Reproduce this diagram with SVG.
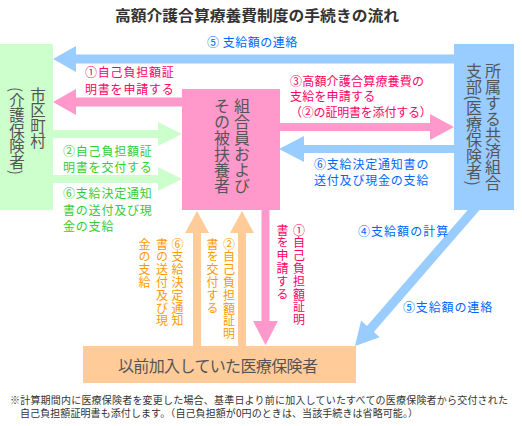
<svg xmlns="http://www.w3.org/2000/svg" width="522" height="426" viewBox="0 0 522 426">
<style>
text{font-family:"Noto Sans CJK JP","Noto Sans CJK SC",sans-serif;}
.title{font-size:15px;font-weight:bold;fill:#333333;}
.lbl{font-size:12px;letter-spacing:0.8px;}
.vt{writing-mode:vertical-rl;}
.box{font-size:15.5px;fill:#555555;}
.b{fill:#0066ff;} .p{fill:#ff0066;} .g{fill:#33cc33;} .o{fill:#ff9900;}
.note{font-size:10px;fill:#333333;}
.ab{fill:#99ccff;} .ap{fill:#ff99cc;} .ag{fill:#ccffcc;} .ao{fill:#ffcc99;}
</style>
<rect width="522" height="426" fill="#ffffff"/>
<text class="title" x="257" y="21" text-anchor="middle" textLength="284" lengthAdjust="spacingAndGlyphs">高額介護合算療養費制度の手続きの流れ</text>

<g id="connectors">
  <polygon class="ab" points="456,54.5 76,54.5 76,46 53,59 76,72 76,63.5 456,63.5"/>
  <polygon class="ap" points="184,97.5 76,97.5 76,89 53,102 76,115 76,106.5 184,106.5"/>
  <polygon class="ag" points="51,130 158,130 158,122 182,134 158,146 158,138 51,138"/>
  <polygon class="ag" points="51,175 158,175 158,167 182,179 158,191 158,183 51,183"/>
  <polygon class="ap" points="277,123 430,123 430,114 454,127 430,140 430,131 277,131"/>
  <polygon class="ab" points="456,145 304,145 304,136 279,149 304,162 304,153 456,153"/>
  <polygon class="ao" points="193,348 193,233 185,233 197,211 209,233 201,233 201,348"/>
  <polygon class="ao" points="238,348 238,233 230,233 242,211 254,233 246,233 246,348"/>
  <polygon class="ap" points="261.5,208 261.5,321 253,321 265.5,345 278,321 269.5,321 269.5,208"/>
  <polygon class="ab" points="474.7,202 481.3,208 373.8,331.9 379.7,337.3 355,346 361.1,320.5 367,325.9"/>
</g>

<g id="labels">
  <text class="lbl b" x="207" y="47" textLength="91" lengthAdjust="spacing">⑤ 支給額の連絡</text>
  <text class="lbl p" x="85" y="77">①自己負担額証</text>
  <text class="lbl p" x="85" y="94">明書を申請する</text>
  <text class="lbl g" x="63" y="156">②自己負担額証</text>
  <text class="lbl g" x="63" y="172">明書を交付する</text>
  <text class="lbl g" x="63" y="198">⑥支給決定通知</text>
  <text class="lbl g" x="63" y="215">書の送付及び現</text>
  <text class="lbl g" x="63" y="231">金の支給</text>
  <text class="lbl p" x="290" y="86" style="letter-spacing:0.2px">③高額介護合算療養費の</text>
  <text class="lbl p" x="290" y="101" style="letter-spacing:0.2px">支給を申請する</text>
  <text class="lbl p" x="290" y="117" style="letter-spacing:-0.2px">（②の証明書を添付する）</text>
  <text class="lbl b" x="314" y="169">⑥支給決定通知書の</text>
  <text class="lbl b" x="314" y="185">送付及び現金の支給</text>
  <text class="lbl b" x="358" y="236" textLength="91" lengthAdjust="spacing">④支給額の計算</text>
  <text class="lbl b" x="403" y="312" textLength="90" lengthAdjust="spacing">⑤支給額の連絡</text>
  <text class="lbl o vt" x="177.5" y="238">⑥支給決定通知</text>
  <text class="lbl o vt" x="162" y="238">書の送付及び現</text>
  <text class="lbl o vt" x="144.5" y="238">金の支給</text>
  <text class="lbl o vt" x="229" y="238">②自己負担額証明</text>
  <text class="lbl o vt" x="212.5" y="238">書を交付する</text>
  <text class="lbl p vt" x="299" y="224">①自己負担額証明</text>
  <text class="lbl p vt" x="282.5" y="224">書を申請する</text>
</g>

<g id="municipality">
  <rect class="ag" x="0" y="44" width="53" height="166"/>
  <text class="box vt" x="38" y="87">市区町村</text>
  <text class="box vt" x="17" y="87">(介護保険者)</text>
</g>
<g id="member">
  <rect class="ap" x="182" y="89" width="98" height="121"/>
  <text class="box vt" x="242" y="98" style="font-size:16px">組合員および</text>
  <text class="box vt" x="222" y="98" style="font-size:16px">その被扶養者</text>
</g>
<g id="kyosai">
  <rect class="ab" x="454" y="44" width="60" height="166"/>
  <text class="box vt" x="493" y="63" style="font-size:16px">所属する共済組合</text>
  <text class="box vt" x="474" y="63" style="font-size:16px">支部(医療保険者)</text>
</g>
<g id="previous">
  <rect class="ao" x="83" y="346" width="273" height="37"/>
  <text class="box" x="218" y="372" text-anchor="middle" style="font-size:16px" textLength="200" lengthAdjust="spacing">以前加入していた医療保険者</text>
</g>

<g id="footnote">
  <text class="note" x="10" y="404" textLength="498" lengthAdjust="spacing">※計算期間内に医療保険者を変更した場合、基準日より前に加入していたすべての医療保険者から交付された</text>
  <text class="note" x="20" y="417" textLength="398" lengthAdjust="spacing">自己負担額証明書も添付します。（自己負担額が0円のときは、当該手続きは省略可能。）</text>
</g>
</svg>
